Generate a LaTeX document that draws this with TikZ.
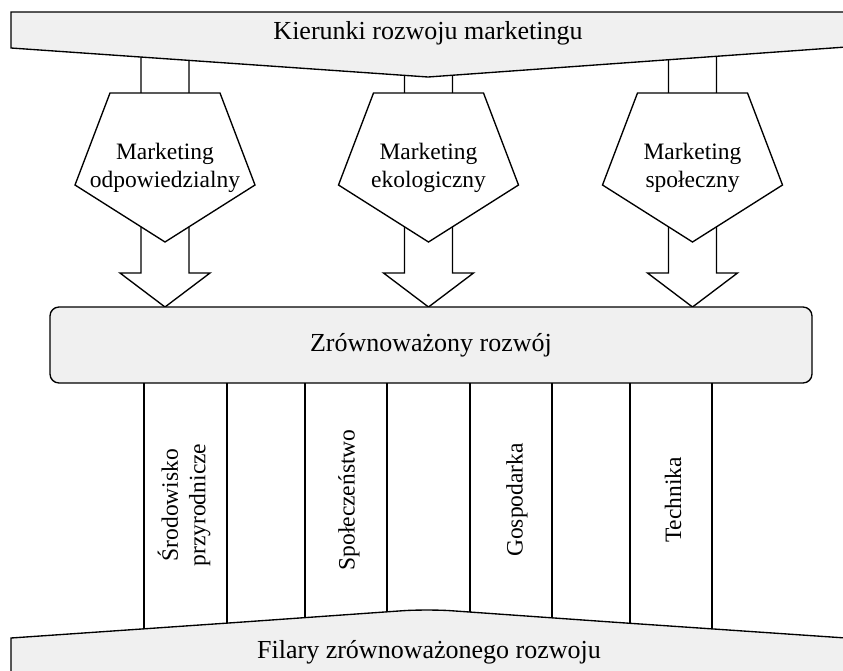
\documentclass[tikz,border=0pt]{standalone}
\usepackage{fontspec}
\setmainfont{Liberation Serif}
\tikzset{
  outl/.style={draw=black, line width=1.35pt, line join=miter},
  banner/.style={outl, fill=gray!12},
  whitebox/.style={outl, fill=white},
  bigtxt/.style={font=\fontsize{26}{30}\selectfont, inner sep=0pt},
  midtxt/.style={font=\fontsize{23.5}{27.5}\selectfont, inner sep=0pt, align=center},
  coltxt/.style={font=\fontsize{23.5}{27.5}\selectfont, inner sep=0pt, align=center, rotate=90}
}
\begin{document}
\begin{tikzpicture}[x=1pt,y=-1pt]
\useasboundingbox (0,0) rectangle (843,670);
\clip (0,0) rectangle (843,670);
% thick arrows (drawn first, covered by pentagons and banner)
\foreach \c/\n in {165/a,428.5/b,692.5/c}{
  \draw[whitebox] (\c-24,40) -- (\c-24,273) -- (\c-45,273) -- (\c,307) -- (\c+45,273) -- (\c+24,273) -- (\c+24,40);
  \draw[whitebox] (\c-55,93) -- (\c+55,93) -- (\c+90,185) -- (\c,242) -- (\c-90,185) -- cycle;
}
% top banner
\draw[banner] (11,12) -- (846,12) -- (846,47) -- (428,77) -- (11,48) -- cycle;
\node[bigtxt] (top) at (428,33) {Kierunki rozwoju marketingu};
% pentagon texts
\node[midtxt] (m1) at (165,168) {Marketing\\odpowiedzialny};
\node[midtxt] (m2) at (428.5,168) {Marketing\\ekologiczny};
\node[midtxt] (m3) at (692.5,168) {Marketing\\społeczny};
% sustainable development box
\node[banner, rounded corners=9pt, minimum width=762pt, minimum height=76pt, inner sep=0pt] (zr) at (431,345) {};
\node[bigtxt] (zrt) at (zr.center) {Zrównoważony rozwój};
% columns
\foreach \x in {144,227,305,387,470,552,630,712}{
  \coordinate (ct\x) at (\x,383);
  \coordinate (cb\x) at (\x,650);
  \draw[outl] (ct\x) -- (cb\x);
}
\node[coltxt] (p1) at (184,505) {Środowisko\\przyrodnicze};
\node[coltxt] (p2) at (349,500) {Społeczeństwo};
\node[coltxt] (p3) at (517,500) {Gospodarka};
\node[coltxt] (p4) at (673,500) {Technika};
% bottom banner
\draw[banner] (11,675) -- (11,638) -- (240,622.2) [rounded corners=25pt] -- (427,609) [sharp corners] -- (614,622.2) -- (846,638) -- (846,675);
\node[bigtxt] (bot) at (429,652) {Filary zrównoważonego rozwoju};
\end{tikzpicture}
\end{document}
